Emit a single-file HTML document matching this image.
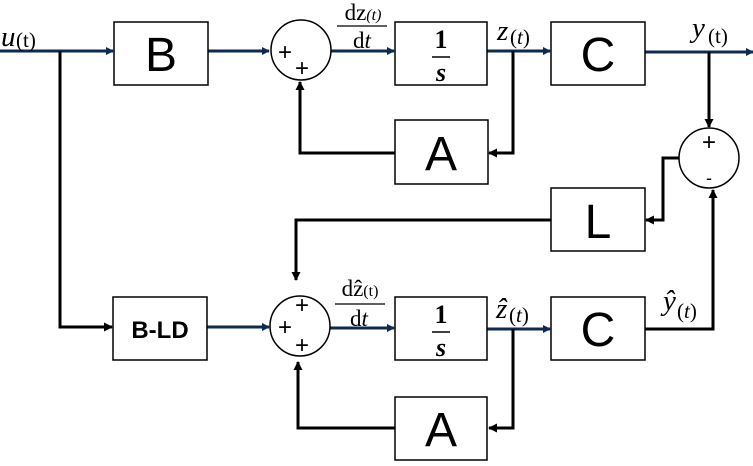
<!DOCTYPE html>
<html><head><meta charset="utf-8"><style>
html,body{margin:0;padding:0;background:#fff;}
svg{display:block;}
text{font-family:"Liberation Serif",serif;}
.s text,text.s{font-family:"Liberation Sans","DejaVu Sans",sans-serif;}
</style></head><body>
<svg width="753" height="466" viewBox="0 0 753 466" xmlns="http://www.w3.org/2000/svg">
<defs>
<marker id="an" markerWidth="8" markerHeight="8" refX="7" refY="4" orient="auto" markerUnits="userSpaceOnUse"><path d="M0,0 L8,4 L0,8 Z" fill="#0f2a4f"/></marker>
<marker id="ab" markerWidth="9" markerHeight="9" refX="8" refY="4.5" orient="auto" markerUnits="userSpaceOnUse"><path d="M0,0 L9,4.5 L0,9 Z" fill="#000"/></marker>
</defs>
<g fill="none" stroke="#0f2a4f" stroke-width="3">
<line x1="0" y1="51" x2="113" y2="51" marker-end="url(#an)"/>
<line x1="208" y1="51" x2="269" y2="51" marker-end="url(#an)"/>
<line x1="331" y1="51" x2="394" y2="51" marker-end="url(#an)"/>
<line x1="487" y1="51" x2="550" y2="51" marker-end="url(#an)"/>
<line x1="645" y1="52" x2="753" y2="52" marker-end="url(#an)"/>
<line x1="207" y1="327" x2="269" y2="327" marker-end="url(#an)"/>
<line x1="330" y1="328" x2="394" y2="328" marker-end="url(#an)"/>
<line x1="487" y1="329" x2="550" y2="329" marker-end="url(#an)"/>
</g>
<g fill="none" stroke="#000" stroke-width="3">
<polyline points="60,51 60,327 112,327" marker-end="url(#ab)"/>
<polyline points="513,51 513,153 489,153" marker-end="url(#ab)"/>
<polyline points="395,153 300,153 300,82" marker-end="url(#ab)"/>
<line x1="709" y1="52" x2="709" y2="127" marker-end="url(#ab)"/>
<polyline points="679,158 663,158 663,220 646,220" marker-end="url(#ab)"/>
<polyline points="551,220 296,220 296,280" marker-end="url(#ab)"/>
<polyline points="645,329 713,329 713,190" marker-end="url(#ab)"/>
<polyline points="513,329 513,428 489,428" marker-end="url(#ab)"/>
<polyline points="395,428 298,428 298,362" marker-end="url(#ab)"/>
</g>
<g fill="#fff" stroke="#000" stroke-width="1.5">
<rect x="114" y="22" width="94" height="63"/>
<rect x="395" y="22" width="92" height="63"/>
<rect x="551" y="22" width="94" height="63"/>
<rect x="395" y="120" width="93" height="64"/>
<rect x="551" y="188" width="94" height="63"/>
<rect x="113" y="297" width="94" height="63"/>
<rect x="395" y="297" width="92" height="63"/>
<rect x="551" y="297" width="94" height="63"/>
<rect x="395" y="397" width="92" height="63"/>
<circle cx="301" cy="50" r="30"/>
<circle cx="709" cy="158" r="30"/>
<ellipse cx="300" cy="326" rx="30" ry="30"/>
</g>
<g class="s" font-size="48" text-anchor="middle" fill="#000">
<text x="161" y="71">B</text>
<text x="598" y="71">C</text>
<text x="441" y="170">A</text>
<text x="598" y="238">L</text>
<text x="598" y="346">C</text>
<text x="441" y="446">A</text>
</g>
<text class="s" x="160" y="338" font-size="24" font-weight="bold" text-anchor="middle">B-LD</text>
<g font-size="26" text-anchor="middle">
<text x="441" y="48" font-weight="bold">1</text>
<line x1="432" y1="57" x2="450" y2="57" stroke="#000" stroke-width="1.5"/>
<text x="441" y="81" font-style="italic" font-weight="bold">s</text>
<text x="441" y="323" font-weight="bold">1</text>
<line x1="432" y1="332" x2="450" y2="332" stroke="#000" stroke-width="1.5"/>
<text x="441" y="356" font-style="italic" font-weight="bold">s</text>
</g>
<g class="s" font-size="24" text-anchor="middle">
<text x="285" y="60">+</text><text x="302" y="76">+</text>
<text x="709" y="150">+</text><text x="709" y="184" font-size="18">-</text>
<text x="302" y="313">+</text><text x="285" y="335">+</text><text x="302" y="353">+</text>
</g>
<g font-size="29">
<text x="1" y="46" font-style="italic">u</text><text x="16" y="47" font-size="21">(t)</text>
<text x="497" y="40" font-style="italic">z</text><text x="510" y="44" font-size="21">(<tspan font-style="italic">t</tspan>)</text>
<text x="692" y="37" font-style="italic">y</text><text x="708" y="43" font-size="21">(t)</text>
<text x="496" y="318" font-style="italic">ẑ</text><text x="509" y="322" font-size="21">(<tspan font-style="italic">t</tspan>)</text>
<text x="663" y="310" font-style="italic">ŷ</text><text x="677" y="318" font-size="21">(<tspan font-style="italic">t</tspan>)</text>
</g>
<g font-size="23" text-anchor="middle">
<text x="363" y="20">dz<tspan font-size="16" font-style="italic">(t)</tspan></text>
<line x1="337" y1="26" x2="387" y2="26" stroke="#000" stroke-width="1.3"/>
<text x="362" y="48">d<tspan font-style="italic">t</tspan></text>
<text x="360" y="296">dẑ<tspan font-size="16">(t)</tspan></text>
<line x1="335" y1="304" x2="385" y2="304" stroke="#000" stroke-width="1.3"/>
<text x="359" y="326">d<tspan font-style="italic">t</tspan></text>
</g>
</svg>
</body></html>
